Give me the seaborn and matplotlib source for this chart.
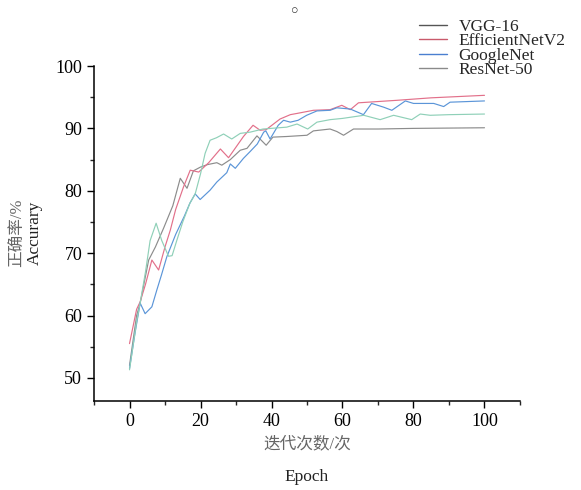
import matplotlib
matplotlib.use('Agg')
import matplotlib.pyplot as plt
from matplotlib.lines import Line2D
from matplotlib.ticker import MultipleLocator
import pandas as pd
import seaborn as sns

# values (epoch, accuracy %)
vgg_epoch = [0, 2, 3, 5.4, 7.3, 9.6, 12.2, 14.3, 16.2, 18, 20, 22, 24.6, 26, 28.4, 31.2, 33.1,
             35.9, 38.5, 40.4, 44.3, 50, 51.8, 56.5, 58.4, 60.3, 63.1, 70, 80, 100]
vgg_acc = [52, 60, 62, 68.9, 71, 74, 77.6, 82, 80.4, 83.2, 83.8, 84.2, 84.5, 84.1, 85, 86.5, 86.8,
           88.8, 87.3, 88.6, 88.7, 88.9, 89.6, 89.9, 89.5, 88.9, 89.9, 89.9, 90, 90.1]

eff_epoch = [0, 2, 3, 4.5, 6.3, 8.2, 10, 11.5, 13, 15.2, 17.1, 19.5, 22.3, 25.6, 27.9, 30, 32.1,
             34.8, 36.8, 38.5, 42.4, 45.3, 47.2, 51.8, 56.5, 59.8, 62.2, 64.5, 75.3, 85, 100]
eff_acc = [55.5, 61, 62.2, 65, 68.9, 67.3, 71, 73.7, 77, 80.6, 83.3, 83, 84.5, 86.7, 85.3, 87, 88.7,
           90.5, 89.7, 89.8, 91.5, 92.2, 92.4, 92.9, 93, 93.7, 93, 94.1, 94.5, 94.9, 95.3]

goo_epoch = [0, 1.5, 3, 4.4, 6.3, 7.7, 9, 10.5, 13, 15.5, 17, 18.5, 19.9, 22.7, 24.6, 27.4, 28.4,
             29.8, 32.1, 34, 36, 37.8, 38.4, 39.6, 41.9, 43.4, 45.3, 47.5, 49.9, 52.8, 56.5, 58.4,
             62.2, 65.9, 68.2, 71.6, 73.9, 77.7, 80, 85.7, 88.5, 90.3, 100]
goo_acc = [51.5, 57, 62, 60.3, 61.4, 64.1, 66.5, 69.4, 73, 76, 78, 79.5, 78.6, 80.1, 81.4, 82.9, 84.3,
           83.6, 85.2, 86.3, 87.5, 89.4, 89.6, 88.3, 90.5, 91.3, 91, 91.3, 92.1, 92.8, 92.9, 93.3,
           93.1, 92.2, 94, 93.4, 92.9, 94.4, 94, 94, 93.5, 94.2, 94.4]

res_epoch = [0, 2, 3, 4.5, 5.8, 7.5, 9.1, 11, 12, 13.3, 15, 17, 18.5, 20, 21.3, 22.7, 24.5, 26.5,
             28.8, 31.2, 34, 37.6, 44.3, 47.2, 50.2, 52.8, 56.5, 60, 66, 70.6, 74.4, 79.5, 81.9,
             84.7, 90, 100]
res_acc = [51.3, 59, 62, 67, 72, 74.8, 72, 69.5, 69.6, 72, 75, 78, 79.5, 82.7, 86, 88.1, 88.5, 89.1,
           88.3, 89.2, 89.4, 89.9, 90.2, 90.7, 89.9, 91, 91.4, 91.6, 92.1, 91.4, 92.1, 91.4, 92.3,
           92.1, 92.2, 92.3]

models = ['VGG-16', 'EfficientNetV2', 'GoogleNet', 'ResNet-50']
line_colors = ['#8c8c8c', '#e2708a', '#5b95d8', '#8fd0b8']
legend_colors = ['#555555', '#c95a6b', '#4a7fd0', '#8a8a8a']

df = pd.concat([
    pd.DataFrame({'epoch': vgg_epoch, 'acc': vgg_acc, 'model': 'VGG-16'}),
    pd.DataFrame({'epoch': eff_epoch, 'acc': eff_acc, 'model': 'EfficientNetV2'}),
    pd.DataFrame({'epoch': goo_epoch, 'acc': goo_acc, 'model': 'GoogleNet'}),
    pd.DataFrame({'epoch': res_epoch, 'acc': res_acc, 'model': 'ResNet-50'}),
])

sns.set_style('ticks')
plt.rcParams['font.family'] = ['Liberation Serif', 'Noto Sans CJK SC']

fig = plt.figure(figsize=(5.81, 4.9), dpi=100)
ax = fig.add_axes([0.1618, 0.1816, 0.7332, 0.6837])

sns.lineplot(data=df, x='epoch', y='acc', hue='model', hue_order=models,
             palette=dict(zip(models, line_colors)), linewidth=0.85, ax=ax,
             legend=False, sort=True, estimator=None)

ax.set_xlim(-10, 110)
ax.set_ylim(46.3, 100)
ax.xaxis.set_major_locator(MultipleLocator(20))
ax.xaxis.set_minor_locator(MultipleLocator(10))
ax.yaxis.set_major_locator(MultipleLocator(10))
ax.yaxis.set_minor_locator(MultipleLocator(5))
ax.tick_params(which='major', direction='out', length=5, width=1, labelsize=13, colors='black')
ax.tick_params(which='minor', direction='out', length=3, width=1)
sns.despine(ax=ax)
for sp in ['left', 'bottom']:
    ax.spines[sp].set_color('black')
    ax.spines[sp].set_linewidth(1.1)

ax.set_xlabel('')
ax.set_ylabel('')
fig.text(0.031, 0.525, '正确率/%', rotation=90, ha='center', va='center', fontsize=12, color='#666666')
fig.text(0.060, 0.525, 'Accurary', rotation=90, ha='center', va='center', fontsize=12.5, color='#222222')
fig.text(0.528, 0.094, '迭代次数/次', ha='center', va='center', fontsize=12, color='#666666')
fig.text(0.528, 0.027, 'Epoch', ha='center', va='center', fontsize=12.5, color='#222222')
fig.text(0.508, 0.977, '○', ha='center', va='center', fontsize=9, color='#333333')

handles = [Line2D([], [], color=c, linewidth=1.0) for c in legend_colors]
fig.legend(handles, models, loc='upper left', bbox_to_anchor=(0.722, 0.962), frameon=False,
           fontsize=12.5, borderpad=0, borderaxespad=0, labelspacing=-0.1,
           handlelength=1.6, handletextpad=0.65)

fig.savefig('out.png', dpi=100)
